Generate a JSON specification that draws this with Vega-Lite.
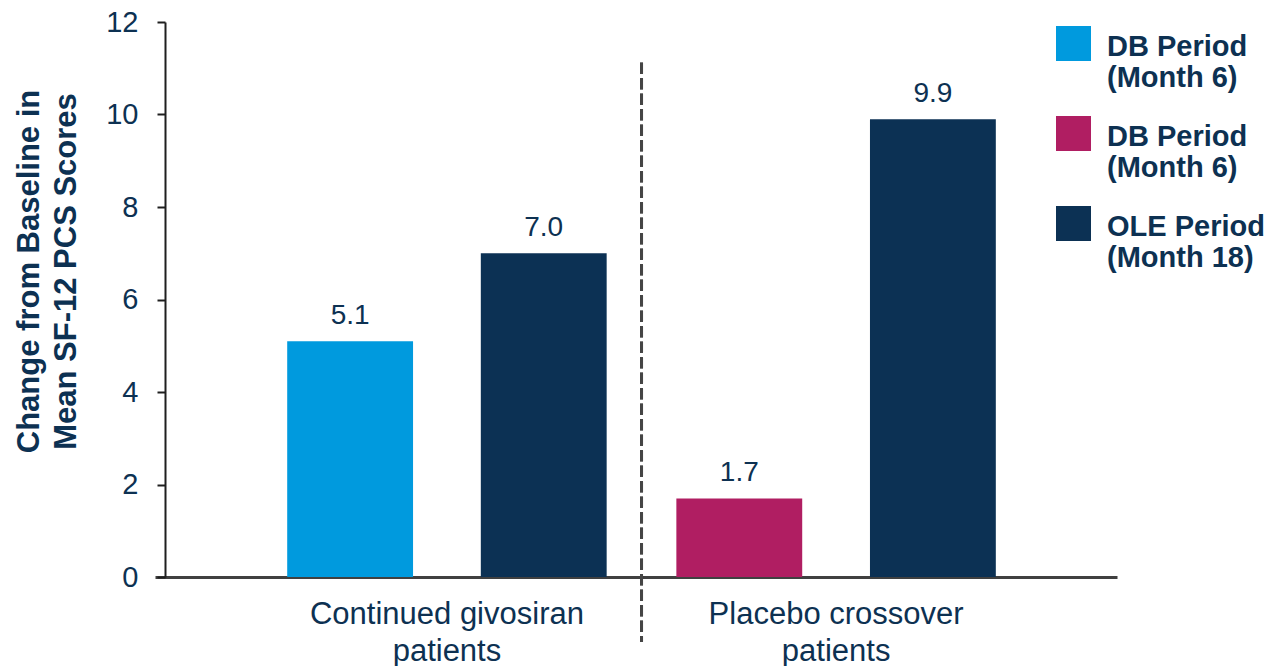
{
  "$schema": "https://vega.github.io/schema/vega-lite/v6.json",
  "width": 962,
  "height": 555,
  "autosize": {"type": "none"},
  "padding": {"left": 155, "top": 22, "right": 152, "bottom": 89},
  "background": "white",
  "config": {
    "view": {"stroke": null},
    "font": "Liberation Sans"
  },
  "data": {
    "values": [
      {"group": "Continued givosiran patients", "series": "DB_cont", "slot": 1, "value": 5.1},
      {"group": "Continued givosiran patients", "series": "OLE", "slot": 2, "value": 7.0},
      {"group": "Placebo crossover patients", "series": "DB_pbo", "slot": 1, "value": 1.7},
      {"group": "Placebo crossover patients", "series": "OLE", "slot": 2, "value": 9.9}
    ]
  },
  "encoding": {
    "x": {
      "field": "group",
      "type": "nominal",
      "sort": null,
      "scale": {"paddingInner": 0, "paddingOuter": 0.236, "align": 0.53},
      "axis": {
        "title": null,
        "domainColor": "#404040",
        "domainWidth": 3,
        "ticks": false,
        "labelAngle": 0,
        "labelFontSize": 31,
        "labelColor": "#0D3152",
        "labelBaseline": "alphabetic",
        "labelLineHeight": 37,
        "labelPadding": 46,
        "labelLimit": 500,
        "labelExpr": "datum.value == 'Continued givosiran patients' ? ['Continued givosiran', 'patients'] : ['Placebo crossover', 'patients']"
      }
    },
    "xOffset": {
      "field": "slot",
      "type": "ordinal",
      "scale": {"paddingInner": 0.35, "paddingOuter": 0.18}
    },
    "y": {
      "field": "value",
      "type": "quantitative",
      "scale": {"domain": [0, 12], "nice": false},
      "axis": {
        "title": ["Change from Baseline in", "Mean SF-12 PCS Scores"],
        "titleFontSize": 31,
        "titleFontWeight": "bold",
        "titleColor": "#0D3152",
        "titleLineHeight": 37,
        "titlePadding": 23,
        "titleY": 249,
        "offset": -10,
        "values": [0, 2, 4, 6, 8, 10, 12],
        "grid": false,
        "domainColor": "#1f1f1f",
        "domainWidth": 2,
        "tickColor": "#1f1f1f",
        "tickWidth": 2,
        "tickSize": 8,
        "labelFontSize": 29,
        "labelColor": "#0D3152",
        "labelPadding": 19
      }
    }
  },
  "layer": [
    {
      "mark": {"type": "bar", "width": {"band": 1}},
      "encoding": {
        "color": {
          "field": "series",
          "type": "nominal",
          "scale": {
            "domain": ["DB_cont", "DB_pbo", "OLE"],
            "range": ["#009ADE", "#B01E62", "#0C3154"]
          },
          "legend": {
            "title": null,
            "orient": "none",
            "legendX": 901,
            "legendY": 16,
            "symbolType": "M -1 -1.68 H 1 V 0.32 H -1 Z",
            "symbolSize": 1225,
            "symbolStrokeWidth": 0,
            "symbolOpacity": 1,
            "labelFontSize": 29,
            "labelFontWeight": "bold",
            "labelColor": "#0D3152",
            "labelBaseline": "alphabetic",
            "labelLineHeight": 37,
            "labelOffset": 16,
            "labelLimit": 300,
            "rowPadding": 23,
            "labelExpr": "datum.value == 'OLE' ? ['OLE Period', '(Month 18)'] : ['DB Period', '(Month 6)']"
          }
        }
      }
    },
    {
      "mark": {"type": "text", "fontSize": 28, "color": "#0D3152", "baseline": "alphabetic", "dy": -17},
      "encoding": {
        "text": {"field": "value", "type": "quantitative", "format": ".1f"}
      }
    },
    {
      "mark": {"type": "rule", "strokeDash": [11, 4.5], "strokeWidth": 3, "color": "#454545"},
      "encoding": {
        "x": {"datum": "Placebo crossover patients", "type": "nominal", "bandPosition": 0},
        "xOffset": null,
        "y": {"datum": 11.12},
        "y2": {"datum": -1.4}
      }
    }
  ]
}
